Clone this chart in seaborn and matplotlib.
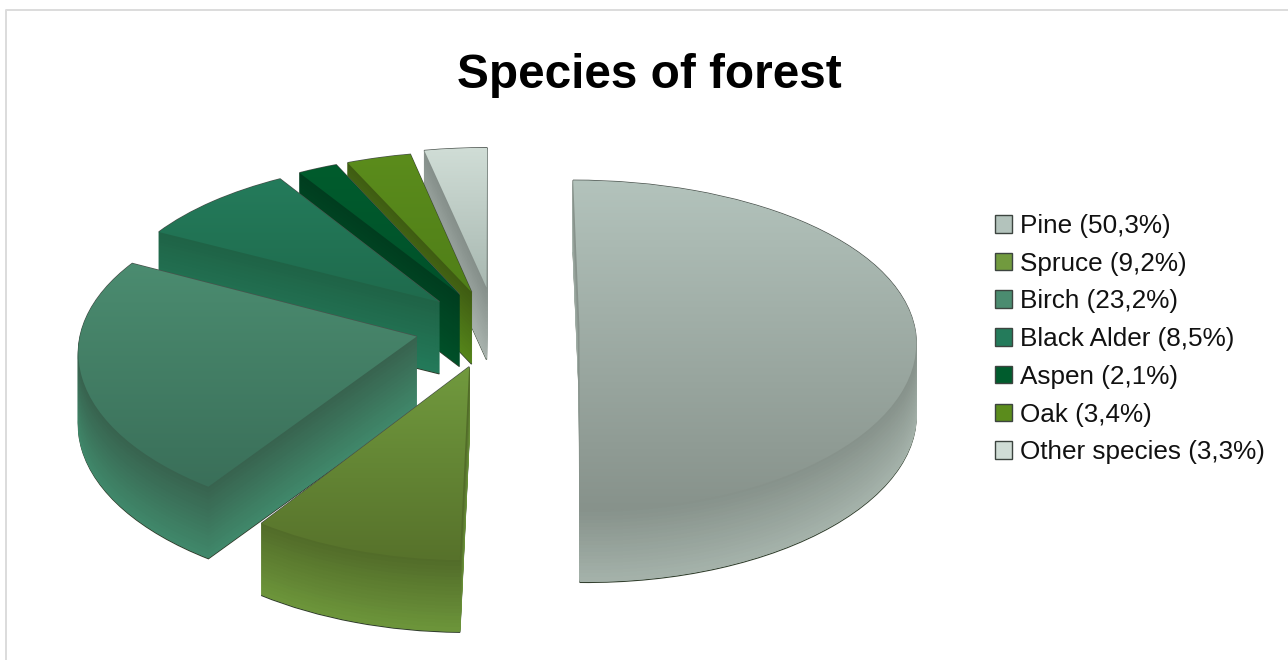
import numpy as np
import matplotlib
matplotlib.use("Agg")
import matplotlib.pyplot as plt
import matplotlib.transforms as mtransforms
import seaborn as sns

species = ["Pine", "Spruce", "Birch", "Black Alder", "Aspen", "Oak", "Other species"]
shares = [50.3, 9.2, 23.2, 8.5, 2.1, 3.4, 3.3]
legend_labels = ["Pine (50,3%)", "Spruce (9,2%)", "Birch (23,2%)", "Black Alder (8,5%)",
                 "Aspen (2,1%)", "Oak (3,4%)", "Other species (3,3%)"]
explode = [0.252, 0.25, 0.24, 0.23, 0.23, 0.23, 0.25]
top_light = ["#b3c3bc", "#719a3e", "#4b8c70", "#247b5b", "#005c2d", "#5b8c1c", "#d0ddd6"]
top_dark = ["#87928b", "#57722b", "#3a6f59", "#1f6b4d", "#00512a", "#507f18", "#a8b8b1"]
side_dark = ["#87928b", "#526c29", "#38634f", "#1f6346", "#003d1f", "#3f5c12", "#858f8a"]
side_light = ["#a5b3ab", "#6d963b", "#40896b", "#237a5a", "#005028", "#55851a", "#a9b3ae"]
paint_rank = {6: 0, 5: 1, 4: 2, 3: 3, 2: 4, 1: 5, 0: 6}

DEPTH = 72
X0, Y0, SX, SY = 495.0, 327.0, 335.0, 163.0
KX, KY = 0.08, 0.109


class TiltedPlane(mtransforms.Transform):
    """Maps the pie's plane to a seen-from-above tilted plane, optionally lowered."""
    input_dims = output_dims = 2
    is_separable = False
    has_inverse = False

    def __init__(self, drop=0.0):
        super().__init__()
        self.drop = drop

    def transform_non_affine(self, values):
        v = np.asarray(values, dtype=float)
        x, y = v[:, 0], v[:, 1]
        return np.column_stack((X0 + SX * x / (1 + KX * y),
                                Y0 + self.drop - SY * y / (1 + KY * y)))


sns.set_theme(style="white")
plt.rcParams["font.family"] = ["Liberation Sans", "DejaVu Sans"]

fig = plt.figure(figsize=(12.88, 6.6), dpi=100, facecolor="white")
ax = fig.add_axes([0, 0, 1, 1])


def draw_pie():
    wedges, _ = ax.pie(shares, explode=explode, startangle=90, counterclock=False,
                       radius=1.0, normalize=True)
    return wedges


# side walls: a stack of pies, deepest first
for drop in np.arange(DEPTH, 0, -1.0):
    wedges = draw_pie()
    f = drop / DEPTH
    for i, w in enumerate(wedges):
        pal = sns.blend_palette([side_dark[i], side_light[i]], 21)
        c = pal[int(round(f * 20))]
        w.set_facecolor(c)
        w.set_edgecolor(c)
        w.set_linewidth(0.8)
        w.set_transform(TiltedPlane(drop) + ax.transData)
        w.set_zorder(10 * paint_rank[i] + 5 - 4 * f)
        w.set_clip_on(False)
    if drop == DEPTH:
        for i, w in enumerate(wedges):
            w.set_edgecolor("#33402f")
            w.set_linewidth(0.9)

# top faces, with a vertical gradient clipped to the wedge
top = draw_pie()
gradient = np.linspace(0, 1, 256).reshape(-1, 1)
images = []
for i, w in enumerate(top):
    plane = TiltedPlane(0.0)
    w.set_facecolor(top_light[i])
    w.set_edgecolor("#4a524d")
    w.set_linewidth(1.0)
    w.set_transform(plane + ax.transData)
    # the outlined wedge lies under its own walls, so only the back rim shows
    w.set_zorder(10 * paint_rank[i] + 0.5)
    w.set_clip_on(False)
    box = plane.transform_path(w.get_path()).get_extents()
    cmap = sns.blend_palette([top_light[i], top_dark[i]], as_cmap=True)
    images.append((w, cmap, box, 10 * paint_rank[i] + 7))

for w, cmap, box, z in images:
    im = ax.imshow(gradient, cmap=cmap, aspect="auto", origin="upper",
                   extent=(box.x0, box.x1, box.y1, box.y0),
                   interpolation="bilinear", zorder=z)
    im.set_clip_path(w)

ax.set_aspect("auto")
ax.set_xlim(0, 1288)
ax.set_ylim(660, 0)
ax.axis("off")

# faint page frame
ax.plot([6.5, 6.5, 1288], [660, 9.5, 9.5], color="#dcdcdc", lw=1.4, zorder=1, clip_on=False)

ax.text(649.5, 75, "Species of forest", ha="center", va="center",
        fontsize=34.4, fontweight="bold", color="black")

leg = ax.legend(top, legend_labels, loc="upper left", bbox_to_anchor=(995 / 1288, 1 - 214 / 660),
                frameon=False, fontsize=18.8, handlelength=0.66, handleheight=0.66,
                handletextpad=0.31, labelspacing=0.525, borderpad=0, borderaxespad=0)
for h, c in zip(leg.get_patches(), top_light):
    h.set_facecolor(c)
    h.set_edgecolor("#3c443f")
    h.set_linewidth(1.0)
leg.set_zorder(200)
for t in leg.get_texts():
    t.set_color("#111111")

fig.savefig("out.png", dpi=100)
